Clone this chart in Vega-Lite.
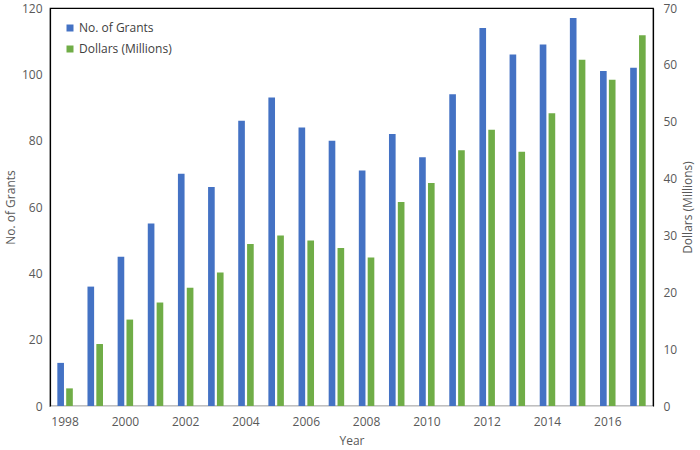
{
  "$schema": "https://vega.github.io/schema/vega-lite/v6.json",
  "width": 603,
  "height": 398,
  "autosize": {"type": "none"},
  "padding": {"left": 50, "top": 8, "right": 47, "bottom": 44},
  "background": "white",
  "config": {
    "font": "Open Sans",
    "view": {"stroke": "#000000", "strokeWidth": 1.2},
    "axis": {"labelColor": "#595959", "titleColor": "#595959", "labelFontSize": 12, "titleFontSize": 12, "titleFontWeight": "normal", "grid": false, "ticks": false}
  },
  "data": {
    "values": [
      {"Year": 1998, "Series": "No. of Grants", "Value": 13},
      {"Year": 1999, "Series": "No. of Grants", "Value": 36},
      {"Year": 2000, "Series": "No. of Grants", "Value": 45},
      {"Year": 2001, "Series": "No. of Grants", "Value": 55},
      {"Year": 2002, "Series": "No. of Grants", "Value": 70},
      {"Year": 2003, "Series": "No. of Grants", "Value": 66},
      {"Year": 2004, "Series": "No. of Grants", "Value": 86},
      {"Year": 2005, "Series": "No. of Grants", "Value": 93},
      {"Year": 2006, "Series": "No. of Grants", "Value": 84},
      {"Year": 2007, "Series": "No. of Grants", "Value": 80},
      {"Year": 2008, "Series": "No. of Grants", "Value": 71},
      {"Year": 2009, "Series": "No. of Grants", "Value": 82},
      {"Year": 2010, "Series": "No. of Grants", "Value": 75},
      {"Year": 2011, "Series": "No. of Grants", "Value": 94},
      {"Year": 2012, "Series": "No. of Grants", "Value": 114},
      {"Year": 2013, "Series": "No. of Grants", "Value": 106},
      {"Year": 2014, "Series": "No. of Grants", "Value": 109},
      {"Year": 2015, "Series": "No. of Grants", "Value": 117},
      {"Year": 2016, "Series": "No. of Grants", "Value": 101},
      {"Year": 2017, "Series": "No. of Grants", "Value": 102},
      {"Year": 1998, "Series": "Dollars (Millions)", "Value": 3.1},
      {"Year": 1999, "Series": "Dollars (Millions)", "Value": 10.9},
      {"Year": 2000, "Series": "Dollars (Millions)", "Value": 15.2},
      {"Year": 2001, "Series": "Dollars (Millions)", "Value": 18.2},
      {"Year": 2002, "Series": "Dollars (Millions)", "Value": 20.8},
      {"Year": 2003, "Series": "Dollars (Millions)", "Value": 23.5},
      {"Year": 2004, "Series": "Dollars (Millions)", "Value": 28.5},
      {"Year": 2005, "Series": "Dollars (Millions)", "Value": 30.0},
      {"Year": 2006, "Series": "Dollars (Millions)", "Value": 29.1},
      {"Year": 2007, "Series": "Dollars (Millions)", "Value": 27.8},
      {"Year": 2008, "Series": "Dollars (Millions)", "Value": 26.1},
      {"Year": 2009, "Series": "Dollars (Millions)", "Value": 35.9},
      {"Year": 2010, "Series": "Dollars (Millions)", "Value": 39.2},
      {"Year": 2011, "Series": "Dollars (Millions)", "Value": 45.0},
      {"Year": 2012, "Series": "Dollars (Millions)", "Value": 48.6},
      {"Year": 2013, "Series": "Dollars (Millions)", "Value": 44.7},
      {"Year": 2014, "Series": "Dollars (Millions)", "Value": 51.5},
      {"Year": 2015, "Series": "Dollars (Millions)", "Value": 60.9},
      {"Year": 2016, "Series": "Dollars (Millions)", "Value": 57.4},
      {"Year": 2017, "Series": "Dollars (Millions)", "Value": 65.2}
    ]
  },
  "encoding": {
    "x": {
      "field": "Year", "type": "ordinal",
      "scale": {"paddingInner": 0.486, "paddingOuter": 0.243},
      "axis": {"title": "Year", "labelAngle": 0, "values": [1998, 2000, 2002, 2004, 2006, 2008, 2010, 2012, 2014, 2016], "domainColor": "#d9d9d9", "domainWidth": 1, "zindex": 1, "labelPadding": 10, "titlePadding": 8}
    },
    "xOffset": {"field": "Series", "type": "nominal", "sort": ["No. of Grants", "Dollars (Millions)"], "scale": {"paddingInner": 0.25, "paddingOuter": 0}},
    "color": {
      "field": "Series", "type": "nominal",
      "scale": {"domain": ["No. of Grants", "Dollars (Millions)"], "range": ["#4472C4", "#70AD47"]},
      "legend": {"title": null, "orient": "none", "legendX": 14, "legendY": 14, "symbolType": "square", "symbolSize": 49, "symbolStrokeWidth": 0, "labelFontSize": 12, "labelColor": "#404040", "rowPadding": 9, "labelOffset": 3}
    }
  },
  "layer": [
    {
      "transform": [{"filter": "datum.Series === 'No. of Grants'"}],
      "mark": {"type": "bar"},
      "encoding": {
        "y": {"field": "Value", "type": "quantitative", "scale": {"domain": [0, 120]},
          "axis": {"title": "No. of Grants", "orient": "left", "values": [0, 20, 40, 60, 80, 100, 120], "domainColor": "#000000", "domainWidth": 1.2, "labelPadding": 8, "titlePadding": 4}}
      }
    },
    {
      "transform": [{"filter": "datum.Series === 'Dollars (Millions)'"}],
      "mark": {"type": "bar"},
      "encoding": {
        "y": {"field": "Value", "type": "quantitative", "scale": {"domain": [0, 70]},
          "axis": {"title": "Dollars (Millions)", "orient": "right", "values": [0, 10, 20, 30, 40, 50, 60, 70], "domainColor": "#000000", "domainWidth": 1.2, "labelPadding": 10, "titlePadding": 6, "titleAngle": -90, "titleBaseline": "top"}}
      }
    }
  ],
  "resolve": {"scale": {"y": "independent"}}
}
